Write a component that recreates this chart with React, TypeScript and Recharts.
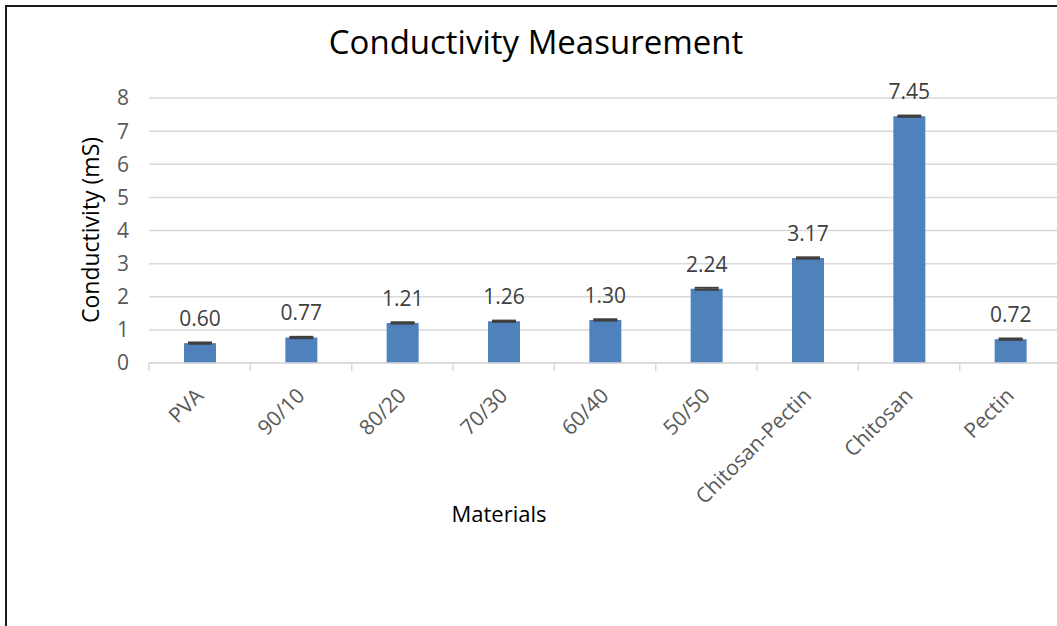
import React from 'react';
import { BarChart, Bar, XAxis, YAxis, CartesianGrid, ErrorBar, LabelList } from 'recharts';

const materials = ['PVA', '90/10', '80/20', '70/30', '60/40', '50/50', 'Chitosan-Pectin', 'Chitosan', 'Pectin'];
const conductivity = [0.6, 0.77, 1.21, 1.26, 1.3, 2.24, 3.17, 7.45, 0.72];
const errors = [0.02, 0.02, 0.02, 0.02, 0.02, 0.03, 0.02, 0.02, 0.02];
const yTicks = [0, 1, 2, 3, 4, 5, 6, 7, 8];

const data = materials.map((name, i) => ({ name, value: conductivity[i], err: errors[i] }));

const FONT = '"Open Sans", sans-serif';
const CHART_W = 1076;
const CHART_H = 640;
const MARGIN = { top: 91, right: 22, left: 82, bottom: 164 };
const Y_AXIS_W = 60;
const BAND = (CHART_W - MARGIN.left - MARGIN.right - Y_AXIS_W) / materials.length;

function XTick(props: any) {
  const { x, y, payload } = props;
  return (
    <g>
      <line x1={x - BAND / 2} x2={x - BAND / 2} y1={y - 8} y2={y} stroke="#D9D9D9" strokeWidth={1.5} />
      <g transform={`translate(${x + 5},${y + 26}) rotate(-45)`}>
        <text textAnchor="end" fill="#595959" fontSize={21} fontFamily={FONT}>
          {payload.value}
        </text>
      </g>
    </g>
  );
}

export default function App() {
  return (
    <div style={{ position: 'absolute', left: 0, top: 0, width: 1057, height: 626, overflow: 'hidden', background: '#fff' }}>
      <div
        style={{
          position: 'absolute',
          left: 5,
          top: 5,
          width: CHART_W,
          height: CHART_H,
          border: '2px solid #1a1a1a',
          fontFamily: FONT,
        }}
      >
        <div style={{ position: 'absolute', left: 0, width: 1058, top: 15, textAlign: 'center', fontSize: 33, color: '#000', lineHeight: '40px' }}>
          Conductivity Measurement
        </div>
        <BarChart width={CHART_W} height={CHART_H} data={data} margin={MARGIN}>
          <CartesianGrid vertical={false} stroke="#D9D9D9" strokeWidth={1.5} />
          <XAxis
            dataKey="name"
            interval={0}
            height={120}
            tickLine={false}
            axisLine={{ stroke: '#D9D9D9', strokeWidth: 1.5 }}
            tick={<XTick />}
          />
          <YAxis
            width={Y_AXIS_W}
            domain={[0, 8]}
            ticks={yTicks}
            tickLine={false}
            axisLine={false}
            tickMargin={14}
            tick={{ fill: '#595959', fontSize: 21, fontFamily: FONT }}
          />
          <Bar dataKey="value" fill="#4F81BD" barSize={32} isAnimationActive={false}>
            <ErrorBar dataKey="err" direction="y" width={12} stroke="#404040" strokeWidth={2} />
            <LabelList
              dataKey="value"
              position="top"
              offset={17}
              formatter={(v: any) => Number(v).toFixed(2)}
              fill="#404040"
              fontSize={21}
              fontFamily={FONT}
            />
          </Bar>
        </BarChart>
        <svg style={{ position: 'absolute', left: 0, top: 0, pointerEvents: 'none' }} width={600} height={560}>
          <text
            transform="translate(92,223) rotate(-90)"
            textAnchor="middle"
            fontSize={23}
            fontFamily={FONT}
            fill="#000"
          >
            Conductivity (mS)
          </text>
          <text x={492} y={515} textAnchor="middle" fontSize={22} fontFamily={FONT} fill="#000">
            Materials
          </text>
        </svg>
      </div>
    </div>
  );
}
